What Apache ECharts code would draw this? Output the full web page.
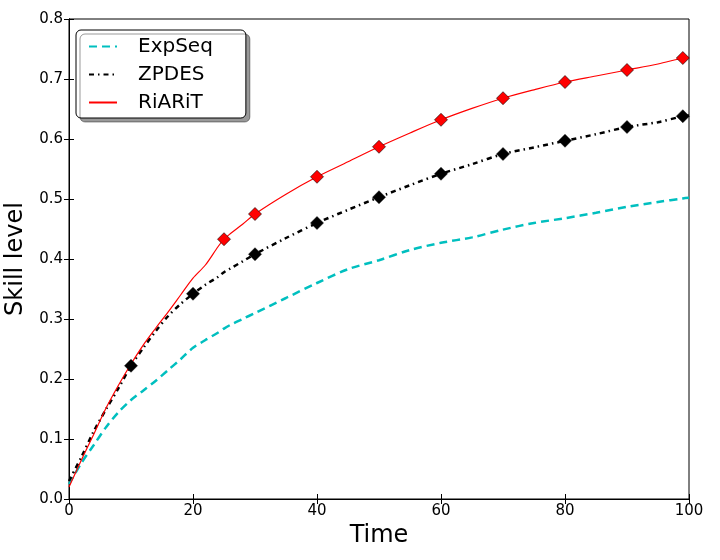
<!DOCTYPE html>
<html>
<head>
<meta charset="utf-8">
<script src="https://cdn.jsdelivr.net/npm/echarts@6/dist/echarts.min.js"></script>
<style>html,body{margin:0;padding:0;background:#fff}#c{width:720px;height:560px}</style>
</head>
<body>
<div id="c"></div>
<script>
const xValues = [0,2,4,6,8,10,12,14,16,18,20,22,24,25,26,28,30,35,40,45,50,55,60,65,70,75,80,85,90,95,99,100];
const expSeq = [0.025,0.06,0.09,0.12,0.145,0.165,0.181,0.197,0.215,0.233,0.252,0.265,0.277,0.284,0.29,0.30,0.31,0.335,0.36,0.383,0.398,0.415,0.427,0.436,0.449,0.46,0.468,0.477,0.487,0.495,0.501,0.502];
const zpdes = [0.03,0.07,0.113,0.15,0.185,0.222,0.252,0.28,0.305,0.325,0.342,0.357,0.370,0.378,0.384,0.396,0.408,0.435,0.46,0.482,0.503,0.523,0.542,0.558,0.575,0.586,0.597,0.608,0.62,0.628,0.638,0.639];
const riarit = [0.02,0.065,0.108,0.152,0.19,0.225,0.257,0.285,0.312,0.34,0.368,0.39,0.42,0.433,0.442,0.458,0.475,0.508,0.537,0.562,0.587,0.61,0.632,0.651,0.668,0.682,0.695,0.705,0.715,0.725,0.735,0.736];
const zpdesMarkerX = [10,20,30,40,50,60,70,80,90,99];
const riaritMarkerX = [25,30,40,50,60,70,80,90,99];
const seriesNames = ['ExpSeq','ZPDES','RiARiT'];

const pairs = (ys) => xValues.map((x,i) => [x, ys[i]]);
const marks = (mx, ys) => mx.map(x => [x, ys[xValues.indexOf(x)]]);

const FONT = 'DejaVu Sans';
const chart = echarts.init(document.getElementById('c'), null, {renderer:'canvas'});
const tickStyle = {show:true, inside:true, length:5, lineStyle:{color:'#000', width:1}};
chart.setOption({
  animation:false,
  backgroundColor:'#fff',
  textStyle:{fontFamily:FONT},
  grid:{left:69, right:31, top:19, bottom:61, outerBoundsMode:'none', containLabel:false,
    show:true, borderColor:'#000', borderWidth:1, backgroundColor:'transparent'},
  legend:{
    left:76, top:30, orient:'vertical',
    data:seriesNames,
    backgroundColor:'#fff', borderColor:'#000', borderWidth:1, borderRadius:5,
    shadowColor:'rgba(0,0,0,0.4)', shadowOffsetX:4, shadowOffsetY:4, shadowBlur:0,
    padding:[5,33,4,12], itemWidth:28, itemHeight:12, itemGap:5,
    itemStyle:{opacity:0},
    textStyle:{fontFamily:FONT, fontSize:20, lineHeight:23, color:'#000', padding:[0,0,0,16]}
  },
  xAxis:[{
    type:'value', min:0, max:100, interval:20, position:'bottom',
    name:'Time', nameLocation:'middle', nameGap:21,
    nameTextStyle:{fontFamily:FONT, fontSize:24, color:'#000'},
    axisLine:{show:true, lineStyle:{color:'#000'}},
    axisTick:tickStyle, splitLine:{show:false},
    axisLabel:{fontFamily:FONT, fontSize:15, color:'#000', margin:5}
  },{
    type:'value', min:0, max:100, interval:20, position:'top',
    axisLine:{show:true, lineStyle:{color:'#000'}},
    axisTick:tickStyle, axisLabel:{show:false}, splitLine:{show:false}
  }],
  yAxis:[{
    type:'value', min:0, max:0.8, interval:0.1, position:'left',
    name:'Skill level', nameLocation:'middle', nameGap:32,
    nameTextStyle:{fontFamily:FONT, fontSize:24, color:'#000'},
    axisLine:{show:true, lineStyle:{color:'#000'}},
    axisTick:tickStyle, splitLine:{show:false},
    axisLabel:{fontFamily:FONT, fontSize:15, color:'#000', margin:6,
      formatter:(v)=>v.toFixed(1)}
  },{
    type:'value', min:0, max:0.8, interval:0.1, position:'right',
    axisLine:{show:true, lineStyle:{color:'#000'}},
    axisTick:tickStyle, axisLabel:{show:false}, splitLine:{show:false}
  }],
  series:[
    {name:'ExpSeq', type:'line', data:pairs(expSeq), showSymbol:false, symbol:'none', smooth:0.3,
      lineStyle:{color:'#00BFBF', width:2.5, type:[8,5]}, itemStyle:{color:'#00BFBF'}, z:2},
    {name:'ZPDES', type:'line', data:pairs(zpdes), showSymbol:false, symbol:'none', smooth:0.3,
      lineStyle:{color:'#000', width:2.5, type:[5,4,1.5,4]}, itemStyle:{color:'#000'}, z:3},
    {name:'RiARiT', type:'line', data:pairs(riarit), showSymbol:false, symbol:'none', smooth:0.3,
      lineStyle:{color:'#FF0000', width:1.2}, itemStyle:{color:'#FF0000'}, z:4},
    {name:'ZPDESm', type:'scatter', data:marks(zpdesMarkerX, zpdes), symbol:'diamond', symbolSize:[13,13],
      itemStyle:{color:'#000', borderColor:'#000', borderWidth:0.5, opacity:1}, z:5},
    {name:'RiARiTm', type:'scatter', data:marks(riaritMarkerX, riarit), symbol:'diamond', symbolSize:[13,13],
      itemStyle:{color:'#FF0000', borderColor:'#000', borderWidth:0.6, opacity:1}, z:6}
  ]
});
</script>
</body>
</html>
